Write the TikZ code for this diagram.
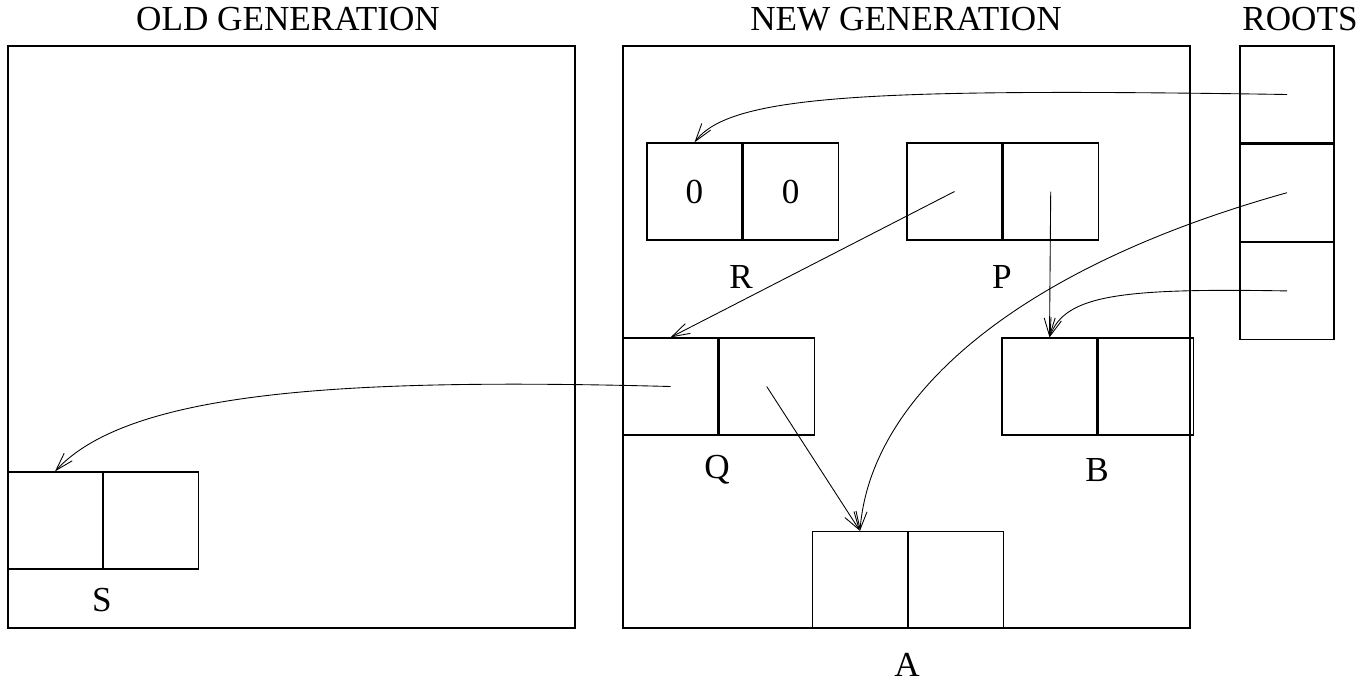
\documentclass[tikz,border=0pt]{standalone}
\usepackage{fontspec}
\setmainfont{Liberation Serif}
\usetikzlibrary{positioning}
\usetikzlibrary{arrows.meta}

\tikzset{
    region/.style={draw, line width=0.7pt, inner sep=0pt, minimum width=11.34cm, minimum height=11.64cm},
    cell/.style={draw, line width=0.7pt, inner sep=0pt, minimum width=1.9cm, minimum height=1.94cm},
    rootCell/.style={draw, line width=0.7pt, inner sep=0pt, minimum width=1.88cm, minimum height=1.94cm},
    pointer/.style={-{Straight Barb[length=3.6mm, width=2.2mm]}, line width=0.5pt},
    lbl/.style={font=\fontsize{20}{24}\selectfont}
}

\begin{document}
\begin{tikzpicture}[x=0.02cm, y=-0.02cm]
        \useasboundingbox (0,0) rectangle (1359,683);

        \node[region] (oldGen) at (291.5,337) {};
        \node[region] (newGen) at (906.5,337) {};
        \node[lbl] (oldTitle) at (288,19) {OLD GENERATION};
        \node[lbl] (newTitle) at (906,19) {NEW GENERATION};
        \node[lbl] (rootTitle) at (1300,19) {ROOTS};

        \node[rootCell] (rootOne) at (1287,94.5) {};
        \node[rootCell, below=0pt of rootOne] (rootTwo) {};
        \node[rootCell, below=0pt of rootTwo] (rootThree) {};

        \node[cell, lbl] (rLeft) at (694.5,191.5) {0};
        \node[cell, lbl, right=0pt of rLeft] (rRight) {0};
        \node[cell] (pLeft) at (954.5,191.5) {};
        \node[cell, right=0pt of pLeft] (pRight) {};
        \node[cell] (qLeft) at (670.5,386.5) {};
        \node[cell, right=0pt of qLeft] (qRight) {};
        \node[cell] (bLeft) at (1049.5,386.5) {};
        \node[cell, right=0pt of bLeft] (bRight) {};
        \node[cell] (aLeft) at (860,580) {};
        \node[cell, right=0pt of aLeft] (aRight) {};
        \node[cell] (sLeft) at (55,520.5) {};
        \node[cell, right=0pt of sLeft] (sRight) {};

        \node[lbl] (rName) at (741,277) {R};
        \node[lbl] (pName) at (1002,277) {P};
        \node[lbl] (qName) at (717,470) {Q};
        \node[lbl] (bName) at (1097,470) {B};
        \node[lbl] (aName) at (907,665) {A};
        \node[lbl] (sName) at (102,600) {S};

        \draw[pointer] (rootOne.center) .. controls (870,88) and (730,95) .. (rLeft.north);
        \draw[pointer] (rootTwo.center) .. controls (1010,270) and (870,400) .. (aLeft.north);
        \draw[pointer] (rootThree.center) .. controls (1120,288) and (1065,295) .. (bLeft.north);
        \draw[pointer] (pLeft.center) -- (qLeft.north);
        \draw[pointer] (pRight.center) -- (bLeft.north);
        \draw[pointer] (qLeft.center) .. controls (350,378) and (130,390) .. (sLeft.north);
        \draw[pointer] (qRight.center) -- (aLeft.north);
    \end{tikzpicture}
\end{document}
